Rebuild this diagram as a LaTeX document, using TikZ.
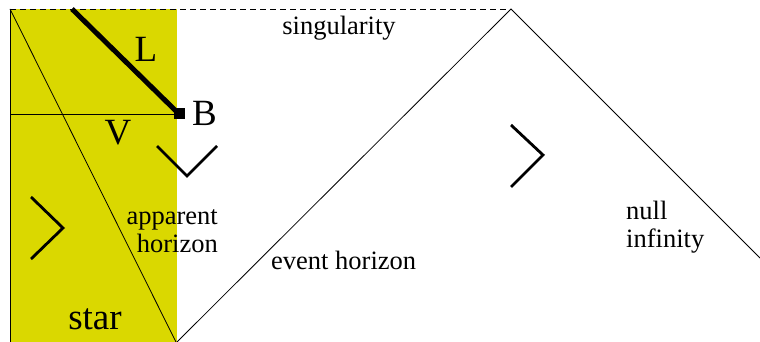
\documentclass[tikz,border=0pt]{standalone}
\usepackage{fontspec}
\setmainfont{Liberation Serif}
\definecolor{staryellow}{RGB}{218,216,0}
\begin{document}
\begin{tikzpicture}[x=1pt,y=-1pt,
  edgeline/.style={line width=0.8pt},
  chevron/.style={line width=2.8pt, line join=miter},
  bigtext/.style={font=\fontsize{37}{40}\selectfont, inner sep=0pt},
  smalltext/.style={font=\fontsize{26.5}{28}\selectfont, inner sep=0pt}]
\useasboundingbox (0,0) rectangle (760,342);
% star region
\fill[staryellow] (10,9) rectangle (177,342);
% points
\coordinate (tl) at (10,9);
\coordinate (bl) at (10,342);
\coordinate (apex) at (511,9);
\coordinate (ehbot) at (177,342);
\coordinate (ahbot) at (176,342);
\coordinate (ni) at (760,258);
\coordinate (hl) at (10,114);
\coordinate (lstart) at (72,9);
\node[fill=black, minimum size=11pt, inner sep=0pt] (B) at (179,114) {};
% lines
\draw[edgeline] (tl) -- (bl);
\draw[edgeline, dash pattern=on 6pt off 4pt] (tl) -- (apex);
\draw[edgeline] (ehbot) -- (apex) -- (ni);
\draw[edgeline] (tl) -- (ahbot);
\draw[edgeline] (hl) -- (B.center);
\draw[line width=5pt] (lstart) -- (B.center);
% chevrons
\draw[chevron] (157,146) -- (187,176) -- (217,146);
\draw[chevron] (31,197) -- (63,228) -- (31,259);
\draw[chevron] (511,125) -- (543,155) -- (511,187);
% labels
\node[smalltext, anchor=base] (sing) at (339,35) {singularity};
\node[bigtext, anchor=base] (Llab) at (146,62) {L};
\node[bigtext, anchor=base west] (Blab) at (192,125) {B};
\node[bigtext, anchor=base] (Vlab) at (118,145) {V};
\node[bigtext, anchor=base] (star) at (95,329) {star};
\node[smalltext, anchor=base west] (eh) at (271,269) {event horizon};
\node[smalltext, anchor=base east, align=right] (ah) at (218,252) {apparent\\horizon};
\node[smalltext, anchor=base west, align=left] (nullinf) at (626,247) {null\\infinity};
\end{tikzpicture}
\end{document}
